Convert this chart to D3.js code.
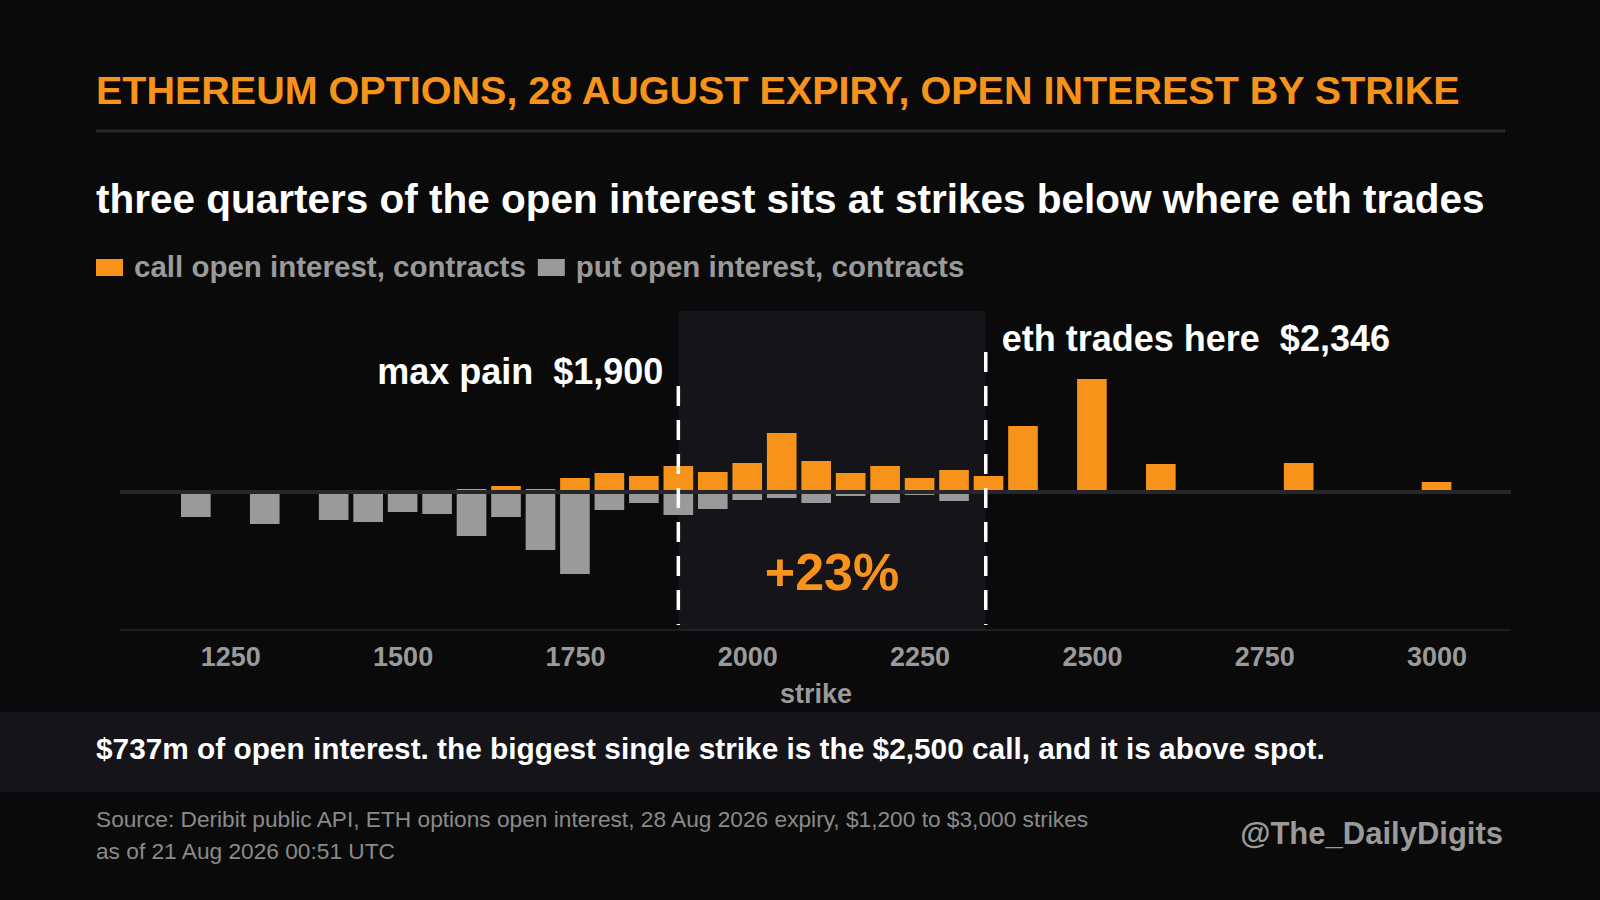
<!DOCTYPE html>
<html lang="en">
<head>
<meta charset="UTF-8">
<title>ETH options open interest</title>
<script src="https://d3js.org/d3.v7.min.js"></script>
<style>
  body { margin: 0; background: #0a0a0a; }
  text { font-family: "Liberation Sans", Arial, sans-serif; white-space: pre; }
</style>
</head>
<body>
<div id="chart"></div>
<script>
// ## Data (contracts)
const strikes = [1200,1300,1400,1450,1500,1550,1600,1650,1700,1750,1800,1850,1900,1950,2000,2050,2100,2150,2200,2250,2300,2350,2400,2500,2600,2800,3000];
const callOI  = [0,0,0,0,0,0,300,600,300,1400,1900,1600,2600,2000,2900,5900,3100,1900,2600,1400,2200,1600,6600,11300,2800,2900,1000];
const putOI   = [2500,3200,2800,3000,2000,2200,4400,2500,5800,8200,1800,1100,2300,1700,800,600,1100,400,1100,300,900,0,0,0,0,0,0];
const xTicks  = [1250,1500,1750,2000,2250,2500,2750,3000];
const maxPain = 1900;
const spot = 2346;

const W = 1600, H = 900;
const orange = "#f7931a", grey = "#9a9a9a", panel = "#141419";

const svg = d3.select("#chart").append("svg")
  .attr("width", W).attr("height", H)
  .style("background", "#0a0a0a");

const x = d3.scaleLinear().domain([1090, 3108]).range([120, 1511]);
const y = d3.scaleLinear().domain([-13800, 18100]).range([630, 311]);
const barW = x(43) - x(0);

// ## Header
svg.append("text").attr("x", 96).attr("y", 104)
  .attr("fill", orange).attr("font-size", 39.5).attr("font-weight", 700)
  .text("ETHEREUM OPTIONS, 28 AUGUST EXPIRY, OPEN INTEREST BY STRIKE");
svg.append("line").attr("x1", 96).attr("x2", 1505).attr("y1", 131).attr("y2", 131)
  .attr("stroke", "#2a2a2e").attr("stroke-width", 3);
svg.append("text").attr("x", 96).attr("y", 213)
  .attr("fill", "#fff").attr("font-size", 40.5).attr("font-weight", 700)
  .text("three quarters of the open interest sits at strikes below where eth trades");

// legend
const legend = [["call open interest, contracts", orange], ["put open interest, contracts", grey]];
let lx = 96;
legend.forEach(([label, c]) => {
  svg.append("rect").attr("x", lx).attr("y", 259).attr("width", 27).attr("height", 17).attr("fill", c);
  const t = svg.append("text").attr("x", lx + 38).attr("y", 277)
    .attr("fill", grey).attr("font-size", 29.5).attr("font-weight", 700).text(label);
  lx += 38 + t.node().getComputedTextLength() + 12;
});

// ## Plot
svg.append("rect").attr("x", x(maxPain)).attr("y", 311)
  .attr("width", x(spot) - x(maxPain)).attr("height", 630 - 311).attr("fill", panel);

svg.append("line").attr("x1", 120).attr("x2", 1511).attr("y1", 630).attr("y2", 630)
  .attr("stroke", "#26262b").attr("stroke-width", 1.5);

svg.selectAll(".call").data(strikes).enter().append("rect")
  .attr("x", d => x(d) - barW / 2).attr("width", barW)
  .attr("y", (d, i) => y(callOI[i])).attr("height", (d, i) => y(0) - y(callOI[i]))
  .attr("fill", orange);
svg.selectAll(".put").data(strikes).enter().append("rect")
  .attr("x", d => x(d) - barW / 2).attr("width", barW)
  .attr("y", y(0)).attr("height", (d, i) => y(-putOI[i]) - y(0))
  .attr("fill", grey);

svg.append("line").attr("x1", 120).attr("x2", 1511).attr("y1", y(0)).attr("y2", y(0))
  .attr("stroke", "#26262b").attr("stroke-width", 4);

// dashed markers
[[maxPain, 386], [spot, 352]].forEach(([v, top]) => {
  svg.append("line").attr("x1", x(v)).attr("x2", x(v)).attr("y1", top).attr("y2", 625)
    .attr("stroke", "#fff").attr("stroke-width", 3.5).attr("stroke-dasharray", "20,14");
});
svg.append("text").attr("x", x(maxPain) - 15).attr("y", 384).attr("text-anchor", "end")
  .attr("fill", "#fff").attr("font-size", 36).attr("font-weight", 700)
  .text("max pain  $1,900");
svg.append("text").attr("x", x(spot) + 16).attr("y", 351)
  .attr("fill", "#fff").attr("font-size", 36).attr("font-weight", 700)
  .text("eth trades here  $2,346");
svg.append("text").attr("x", (x(maxPain) + x(spot)) / 2).attr("y", 590).attr("text-anchor", "middle")
  .attr("fill", orange).attr("font-size", 52).attr("font-weight", 700).text("+23%");

// x axis
const xAxis = svg.append("g").attr("transform", "translate(0,630)")
  .call(d3.axisBottom(x).tickValues(xTicks).tickFormat(d3.format("d")).tickSize(0).tickPadding(17));
xAxis.select(".domain").remove();
xAxis.selectAll("text").attr("fill", grey).attr("font-size", 27).attr("font-weight", 700)
  .attr("font-family", "Liberation Sans, Arial, sans-serif");
svg.append("text").attr("x", 816).attr("y", 703).attr("text-anchor", "middle")
  .attr("fill", grey).attr("font-size", 27).attr("font-weight", 700).text("strike");

// ## Footer
svg.append("rect").attr("x", 0).attr("y", 712).attr("width", W).attr("height", 80).attr("fill", panel);
svg.append("text").attr("x", 96).attr("y", 759)
  .attr("fill", "#fff").attr("font-size", 29.8).attr("font-weight", 700)
  .text("$737m of open interest. the biggest single strike is the $2,500 call, and it is above spot.");
svg.append("text").attr("x", 96).attr("y", 827).attr("fill", "#8a8a8a").attr("font-size", 22.7)
  .text("Source: Deribit public API, ETH options open interest, 28 Aug 2026 expiry, $1,200 to $3,000 strikes");
svg.append("text").attr("x", 96).attr("y", 859).attr("fill", "#8a8a8a").attr("font-size", 22.7)
  .text("as of 21 Aug 2026 00:51 UTC");
svg.append("text").attr("x", 1503).attr("y", 844).attr("text-anchor", "end")
  .attr("fill", grey).attr("font-size", 31).attr("font-weight", 700).text("@The_DailyDigits");
</script>
</body>
</html>
